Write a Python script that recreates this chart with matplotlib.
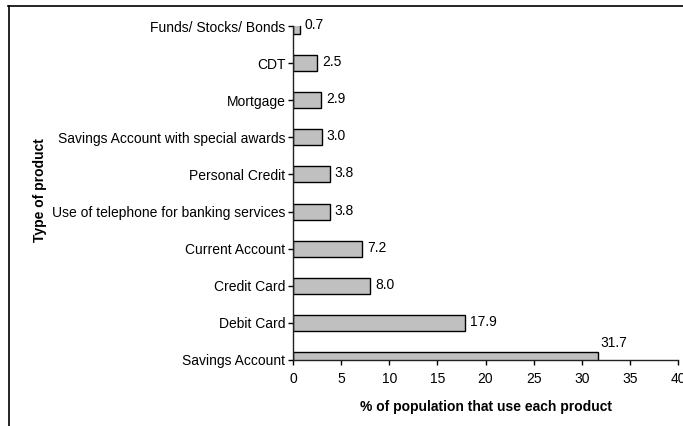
import matplotlib.pyplot as plt
from matplotlib.lines import Line2D

plt.rcParams['font.family'] = ['Liberation Sans', 'DejaVu Sans']

productos = ['Savings Account', 'Debit Card', 'Credit Card', 'Current Account',
             'Use of telephone for banking services', 'Personal Credit',
             'Savings Account with special awards', 'Mortgage', 'CDT',
             'Funds/ Stocks/ Bonds']
porcentajes = [31.7, 17.9, 8.0, 7.2, 3.8, 3.8, 3.0, 2.9, 2.5, 0.7]
ticks_x = [0, 5, 10, 15, 20, 25, 30, 35, 40]


def graficar(productos, porcentajes):
    fig = plt.figure(figsize=(6.83, 4.26), dpi=100)
    ax = fig.add_axes([293/683, 1 - 360/426, 385/683, 334/426])

    pos = range(len(productos))
    ax.barh(pos, porcentajes, height=0.43, color='#c0c0c0',
            edgecolor='black', linewidth=1)

    for i, v in enumerate(porcentajes):
        if i == 0:
            # la primera barra queda cortada por el eje, etiqueta encima
            ax.annotate(f'{v:.1f}', (v, 0), xytext=(2, 17),
                        textcoords='offset pixels', ha='left', va='center',
                        fontsize=10)
        else:
            ax.annotate(f'{v:.1f}', (v, i), xytext=(5, 1),
                        textcoords='offset pixels', ha='left', va='center',
                        fontsize=10)

    ax.set_xlim(0, 40)
    ax.set_ylim(0, len(productos) - 1)
    ax.set_xticks(ticks_x)
    ax.set_yticks(list(pos))
    ax.set_yticklabels(productos)
    ax.tick_params(axis='both', labelsize=10, length=3.5, width=1, colors='black')
    ax.tick_params(axis='x', pad=5)
    ax.tick_params(axis='y', pad=2)

    for lado in ['top', 'right']:
        ax.spines[lado].set_visible(False)
    for lado in ['left', 'bottom']:
        ax.spines[lado].set_linewidth(1)
        ax.spines[lado].set_color('#222222')

    ax.set_xlabel('% of population that use each product', fontsize=10,
                  fontweight='bold', labelpad=10)
    fig.text(40/683, 1 - 190/426, 'Type of product', rotation=90, fontsize=10,
             fontweight='bold', ha='center', va='center')

    # marco exterior
    fig.add_artist(Line2D([8/683, 1], [1 - 6/426, 1 - 6/426], color='black',
                          linewidth=1.2, transform=fig.transFigure))
    fig.add_artist(Line2D([9/683, 9/683], [0, 1 - 6/426], color='black',
                          linewidth=1.2, transform=fig.transFigure))

    fig.savefig('out.png', dpi=100)


graficar(productos, porcentajes)
